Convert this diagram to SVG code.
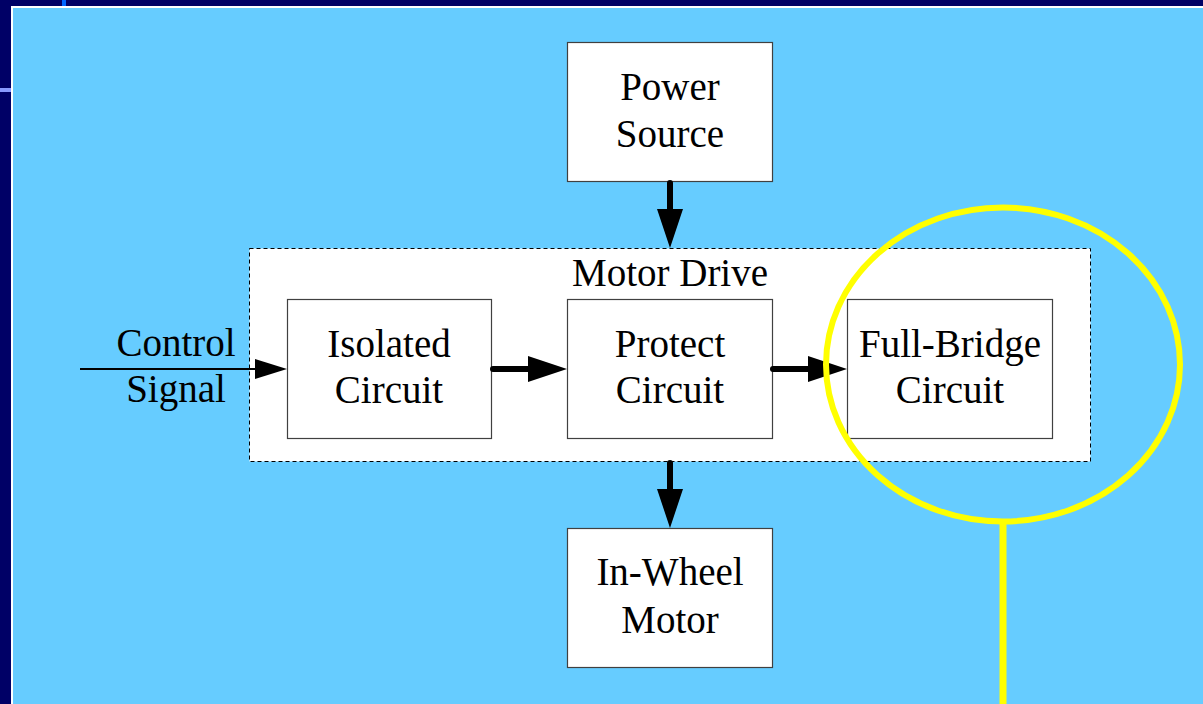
<svg xmlns="http://www.w3.org/2000/svg" width="1203" height="704" viewBox="0 0 1203 704">
<style>
.box{fill:#ffffff;stroke:#404040;stroke-width:1.2}
.t{font-family:"Liberation Serif","Times New Roman",serif;font-size:39px;fill:#000;text-anchor:middle}
.thick{stroke:#000;stroke-width:6;stroke-linecap:round;fill:none}
</style>
<defs>
<marker id="big" markerUnits="userSpaceOnUse" markerWidth="40" markerHeight="28" refX="1" refY="13" orient="auto" viewBox="0 0 40 26">
<path d="M0,0 L39,13 L0,26 Z" fill="#000"/>
</marker>
<marker id="small" markerUnits="userSpaceOnUse" markerWidth="33" markerHeight="22" refX="1" refY="10" orient="auto" viewBox="0 0 33 20">
<path d="M0,0 L32,10 L0,20 Z" fill="#000"/>
</marker>
</defs>
<rect x="0" y="0" width="1203" height="704" fill="#000066"/>
<rect x="62" y="0" width="4" height="7" fill="#0066ff"/>
<rect x="0" y="88" width="12" height="4" fill="#8899ff"/>
<rect x="11" y="6" width="1192" height="698" fill="#ffffff"/>
<rect x="13" y="8" width="1190" height="696" fill="#66ccff"/>

<g id="motor-drive">
<rect x="249.5" y="248.5" width="841" height="213" fill="#ffffff" stroke="#000" stroke-width="1" stroke-dasharray="4,3"/>
<text class="t" x="670" y="286">Motor Drive</text>
</g>
<g id="power-source">
<rect class="box" x="567.5" y="42.5" width="205" height="139"/>
<text class="t" x="670" y="100">Power</text>
<text class="t" x="670" y="147">Source</text>
</g>
<g id="isolated-circuit">
<rect class="box" x="287.5" y="299.5" width="204" height="139"/>
<text class="t" x="389" y="357">Isolated</text>
<text class="t" x="389" y="403">Circuit</text>
</g>
<g id="protect-circuit">
<rect class="box" x="567.5" y="299.5" width="205" height="139"/>
<text class="t" x="670" y="357">Protect</text>
<text class="t" x="670" y="403">Circuit</text>
</g>
<g id="full-bridge-circuit">
<rect class="box" x="847.5" y="299.5" width="205" height="139"/>
<text class="t" x="950" y="357">Full-Bridge</text>
<text class="t" x="950" y="403">Circuit</text>
</g>
<g id="in-wheel-motor">
<rect class="box" x="567.5" y="528.5" width="205" height="139"/>
<text class="t" x="670" y="585">In-Wheel</text>
<text class="t" x="670" y="633">Motor</text>
</g>
<g id="control-signal">
<text class="t" x="176" y="356">Control</text>
<text class="t" x="176" y="402">Signal</text>
</g>

<g id="connectors">
<line x1="80" y1="369" x2="256" y2="369" stroke="#000" stroke-width="2" marker-end="url(#small)"/>
<line class="thick" x1="670" y1="183" x2="670" y2="210" marker-end="url(#big)"/>
<line class="thick" x1="493" y1="369" x2="529" y2="369" marker-end="url(#big)"/>
<line class="thick" x1="773" y1="369" x2="809" y2="369" marker-end="url(#big)"/>
<line class="thick" x1="670" y1="463" x2="670" y2="490" marker-end="url(#big)"/>
</g>

<g id="highlight">
<ellipse cx="1003" cy="364.5" rx="177" ry="157" fill="none" stroke="#ffff00" stroke-width="6"/>
<line x1="1003" y1="520" x2="1003" y2="704" stroke="#ffff00" stroke-width="7"/>
</g>
</svg>
